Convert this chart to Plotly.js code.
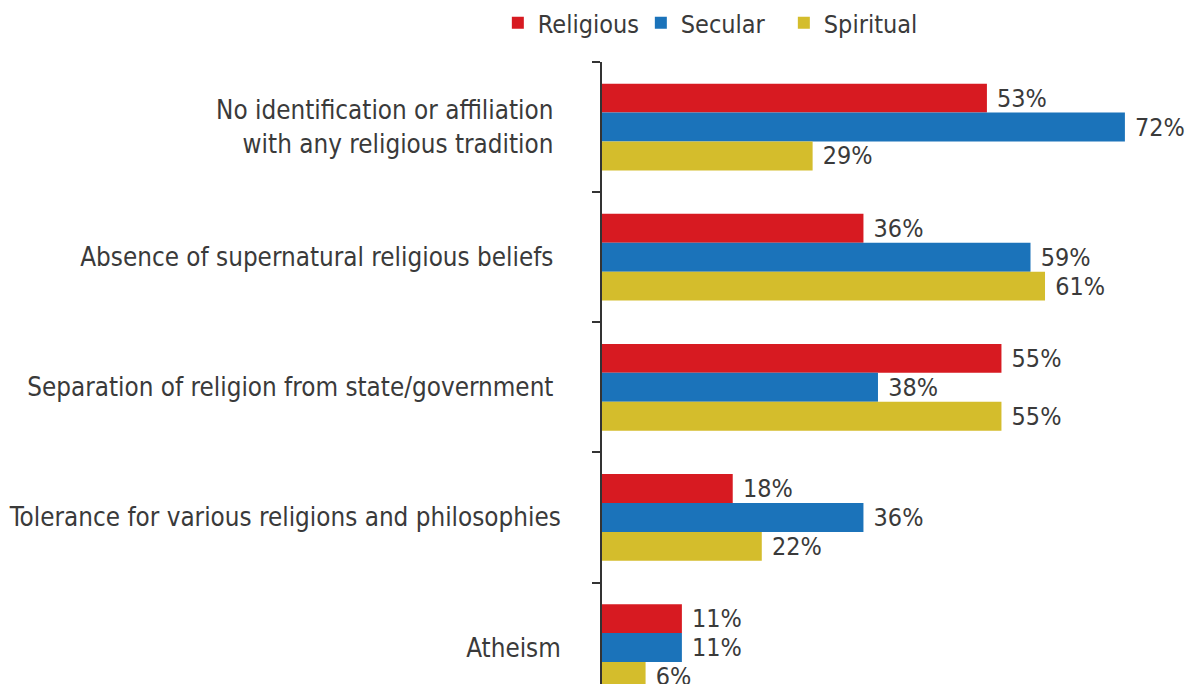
<!DOCTYPE html>
<html>
<head>
<meta charset="utf-8">
<script src="https://cdn.plot.ly/plotly-3.0.1.min.js"></script>
<style>html,body{margin:0;padding:0;background:#fff;}#chart{width:1191px;height:684px;}</style>
</head>
<body>
<div id="chart"></div>
<script>
const categories = [
  "No identification or affiliation <br>with any religious tradition ",
  "Absence of supernatural religious beliefs ",
  "Separation of religion from state/government ",
  "Tolerance for various religions and philosophies",
  "Atheism"
];
const seriesNames = ["Religious", "Secular", "Spiritual"];
const religious = [53, 36, 55, 18, 11];
const secular = [72, 59, 38, 36, 11];
const spiritual = [29, 61, 55, 22, 6];
const colors = ["#d71a21", "#1b73ba", "#d4bd2c"];

const FONT = "DejaVu Sans Condensed, Liberation Sans Narrow, sans-serif";
const values = [religious, secular, spiritual];
const traces = values.map((vals, i) => ({
  type: "bar",
  orientation: "h",
  name: seriesNames[i],
  y: categories,
  x: vals,
  marker: {color: colors[i]},
  text: vals.map(v => " " + v + "%"),
  textposition: "outside",
  cliponaxis: false,
  textfont: {family: FONT, size: 25, color: "#3a3a3a"},
  hoverinfo: "skip"
}));

const layout = {
  width: 1191, height: 684,
  margin: {l: 602, r: 0, t: 62, b: 0, pad: 0, autoexpand: false},
  paper_bgcolor: "#fff", plot_bgcolor: "#fff",
  barmode: "group",
  bargap: 0.333,
  bargroupgap: 0,
  font: {family: FONT, size: 25.8, color: "#3a3a3a"},
  showlegend: true,
  legend: {
    orientation: "h",
    xref: "container", yref: "container",
    x: 0.418, y: 1, xanchor: "left", yanchor: "top",
    font: {family: FONT, size: 25, color: "#3a3a3a"},
    traceorder: "normal",
    entrywidth: 98,
    entrywidthmode: "pixels",
    itemclick: false
  },
  xaxis: {
    range: [0, 81.1],
    showgrid: false, zeroline: false, showline: false,
    showticklabels: false, ticks: ""
  },
  yaxis: {
    type: "category",
    categoryorder: "array",
    categoryarray: categories,
    range: [4.28, -0.5],
    showgrid: false, zeroline: false,
    showline: true, linecolor: "#333", linewidth: 2,
    ticks: "outside", ticklen: 8, tickwidth: 2, tickcolor: "#333",
    tickson: "boundaries",
    ticklabelstandoff: 34,
    tickfont: {family: FONT, size: 25.8, color: "#3a3a3a"}
  }
};

Plotly.newPlot("chart", traces, layout, {displayModeBar: false, staticPlot: true});
</script>
</body>
</html>
